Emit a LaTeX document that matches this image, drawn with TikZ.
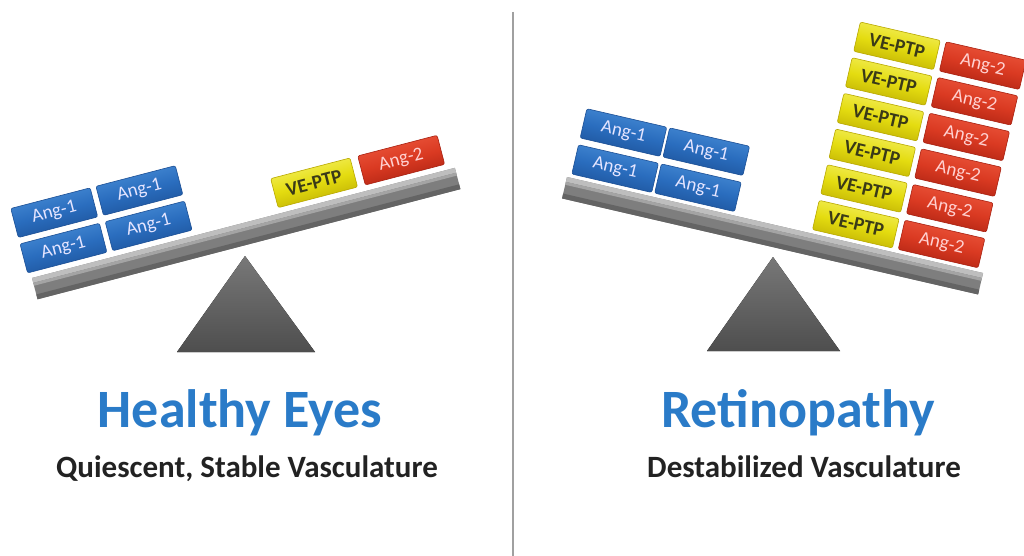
\documentclass[tikz,border=0pt]{standalone}
\usepackage{fontspec}
\setmainfont{Carlito}
\definecolor{blueL}{HTML}{4A8FD8}
\definecolor{blueM}{HTML}{2A6DBE}
\definecolor{blueD}{HTML}{1B4F95}
\definecolor{yelL}{HTML}{F6F26A}
\definecolor{yelM}{HTML}{E4DC10}
\definecolor{yelD}{HTML}{B8A800}
\definecolor{redL}{HTML}{EE5A40}
\definecolor{redM}{HTML}{DA3A22}
\definecolor{redD}{HTML}{A82010}
\definecolor{beamTop}{HTML}{BEBEBE}
\definecolor{beamFace}{HTML}{7E7E7E}
\definecolor{beamDark}{HTML}{646464}
\definecolor{triTop}{HTML}{787878}
\definecolor{triBot}{HTML}{4E4E4E}
\definecolor{titleBlue}{HTML}{2A7BC8}
\definecolor{subText}{HTML}{222222}
\definecolor{vetext}{HTML}{3A3A18}
\definecolor{divider}{HTML}{A0A0A0}
\tikzset{
  blk/.style={transform shape, minimum width=82pt, minimum height=30pt,
    rounded corners=2pt, inner sep=0pt, line width=0.6pt},
  ang1/.style={blk, draw=blueD, top color=blueL, bottom color=blueD,
    middle color=blueM, shading angle=#1, text=white!90!blue,
    font=\fontsize{19}{19}\selectfont},
  vep/.style={blk, draw=yelD, top color=yelL, bottom color=yelD,
    middle color=yelM, shading angle=#1, text=vetext,
    font=\bfseries\fontsize{19.5}{19.5}\selectfont},
  ang2/.style={blk, draw=redD, top color=redL, bottom color=redD,
    middle color=redM, shading angle=#1, text=white!82!red,
    font=\fontsize{19}{19}\selectfont},
  tri/.style={top color=triTop, bottom color=triBot},
  title/.style={anchor=base, text=titleBlue, font=\bfseries\fontsize{54}{54}\selectfont},
  subtitle/.style={anchor=base, text=subText, font=\bfseries\fontsize{31}{31}\selectfont},
}
\newcommand{\drawbeam}[1]{%
  \fill[beamFace] (0,0) rectangle (#1,22);
  \fill[beamDark] (0,17) rectangle (#1,22);
  \fill[beamTop] (0,0) rectangle (#1,5);
  \fill[beamTop!60!beamFace] (0,5) rectangle (#1,8);
}
\begin{document}
\begin{tikzpicture}[x=1pt,y=-1pt]
\useasboundingbox[fill=white] (0,0) rectangle (1024,556);

% divider
\coordinate (dtop) at (513,12);
\coordinate (dbot) at (513,556);
\draw[divider, line width=1.3pt] (dtop) -- (dbot);

% ---------------- left: healthy eyes ----------------
\fill[tri] (245,256) -- (315,352) -- (177,352) -- cycle;
\begin{scope}[shift={(32,278)}, rotate=14.6]
  \drawbeam{437}
  \node[ang1=14.6] (la) at (38,-21) {Ang-1};
  \node[ang1=14.6] (lb) at (126,-21) {Ang-1};
  \node[ang1=14.6] (lc) at (38,-57.6) {Ang-1};
  \node[ang1=14.6] (ld) at (126,-57.6) {Ang-1};
  \node[vep=14.6] (lv) at (297,-21) {VE-PTP};
  \node[ang2=14.6] (lr) at (387,-21) {Ang-2};
\end{scope}
\node[title] (t1) at (240,427) {Healthy Eyes};
\node[subtitle] (s1) at (247,477) {Quiescent, Stable Vasculature};

% ---------------- right: retinopathy ----------------
\fill[tri] (773,257) -- (840,351) -- (707,351) -- cycle;
\begin{scope}[shift={(567,177)}, rotate=-13]
  \drawbeam{427}
  \node[ang1=-13] (ra) at (45,-19) {Ang-1};
  \node[ang1=-13] (rb) at (130,-19) {Ang-1};
  \node[ang1=-13] (rc) at (45,-56) {Ang-1};
  \node[ang1=-13] (rd) at (130,-56) {Ang-1};
  \foreach \k in {0,...,5} {
    \node[vep=-13] (rv\k) at (292,-19-36.6*\k) {VE-PTP};
    \node[ang2=-13] (rr\k) at (380,-19-36.6*\k) {Ang-2};
  }
\end{scope}
\node[title] (t2) at (798,427) {Retinopathy};
\node[subtitle] (s2) at (804,477) {Destabilized Vasculature};
\end{tikzpicture}
\end{document}
